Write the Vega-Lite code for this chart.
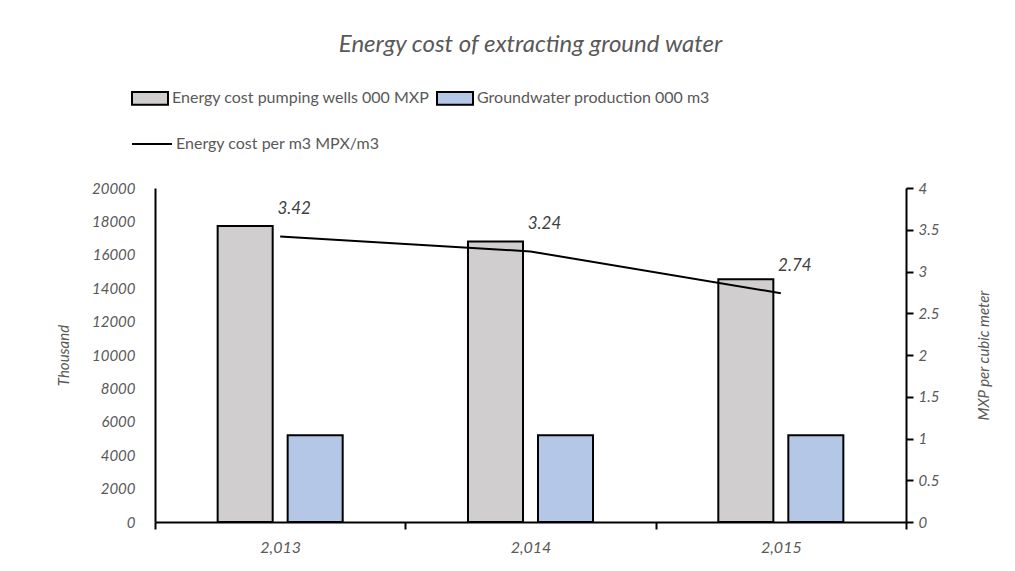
{
  "$schema": "https://vega.github.io/schema/vega-lite/v6.json",
  "width": 751,
  "height": 334,
  "autosize": {"type": "none"},
  "padding": {"left": 155, "top": 188, "right": 109, "bottom": 49},
  "background": "white",
  "config": {"font": "Lato", "view": {"stroke": null}},
  "title": {
    "text": "Energy cost of extracting ground water",
    "font": "Lato",
    "fontSize": 24,
    "fontStyle": "italic",
    "fontWeight": "normal",
    "color": "#595959",
    "anchor": "middle",
    "frame": "group",
    "offset": 22
  },
  "datasets": {
    "bars": [
      {"year": "2,013", "series": "Energy cost pumping wells 000 MXP", "value": 17720},
      {"year": "2,013", "series": "Groundwater production 000 m3", "value": 5200},
      {"year": "2,014", "series": "Energy cost pumping wells 000 MXP", "value": 16790},
      {"year": "2,014", "series": "Groundwater production 000 m3", "value": 5200},
      {"year": "2,015", "series": "Energy cost pumping wells 000 MXP", "value": 14530},
      {"year": "2,015", "series": "Groundwater production 000 m3", "value": 5200}
    ],
    "line": [
      {"year": "2,013", "series": "Energy cost per m3 MPX/m3", "value": 3.42, "label": "3.42"},
      {"year": "2,014", "series": "Energy cost per m3 MPX/m3", "value": 3.24, "label": "3.24"},
      {"year": "2,015", "series": "Energy cost per m3 MPX/m3", "value": 2.74, "label": "2.74"}
    ]
  },
  "layer": [
    {
      "data": {"name": "bars"},
      "mark": {"type": "bar", "stroke": "black", "strokeWidth": 2},
      "encoding": {
        "x": {
          "field": "year", "type": "nominal", "sort": null,
          "scale": {"paddingInner": 0, "paddingOuter": 0},
          "axis": {
            "title": null, "labelAngle": 0, "tickBand": "extent",
            "tickSize": 7, "tickWidth": 2, "tickColor": "black",
            "domainColor": "black", "domainWidth": 2,
            "labelFont": "Lato", "labelFontSize": 16, "labelFontStyle": "italic",
            "labelColor": "#595959", "labelPadding": 10
          }
        },
        "xOffset": {
          "field": "series", "type": "nominal", "sort": null,
          "scale": {"paddingInner": 0.214, "paddingOuter": 0.895}
        },
        "y": {
          "field": "value", "type": "quantitative",
          "scale": {"domain": [0, 20000]},
          "axis": {
            "title": "Thousand",
            "values": [0, 2000, 4000, 6000, 8000, 10000, 12000, 14000, 16000, 18000, 20000],
            "format": "d", "ticks": false, "tickSize": 0, "grid": false,
            "domainColor": "black", "domainWidth": 2,
            "labelFont": "Lato", "labelFontSize": 15, "labelFontStyle": "italic",
            "labelColor": "#595959", "labelPadding": 20,
            "titleFont": "Lato", "titleFontSize": 15, "titleFontStyle": "italic",
            "titleFontWeight": "normal", "titleColor": "#595959", "titlePadding": 20
          }
        },
        "color": {
          "field": "series", "type": "nominal", "sort": null,
          "scale": {
            "domain": ["Energy cost pumping wells 000 MXP", "Groundwater production 000 m3"],
            "range": ["#d0cece", "#b4c7e7"]
          },
          "legend": {
            "orient": "none", "legendX": -24, "legendY": -109,
            "direction": "horizontal", "title": null,
            "symbolType": "M-1,-0.35H1V0.35H-1Z", "symbolSize": 1296,
            "symbolStrokeColor": "black", "symbolStrokeWidth": 2, "symbolOpacity": 1,
            "labelFont": "Lato", "labelFontSize": 16, "labelColor": "#595959",
            "labelOffset": 3, "columnPadding": 3, "padding": 0, "labelLimit": 600
          }
        }
      }
    },
    {
      "data": {"name": "line"},
      "encoding": {
        "x": {"field": "year", "type": "nominal", "sort": null},
        "y": {
          "field": "value", "type": "quantitative",
          "scale": {"domain": [0, 4]},
          "axis": {
            "orient": "right", "title": "MXP per cubic meter",
            "values": [0, 0.5, 1, 1.5, 2, 2.5, 3, 3.5, 4], "format": "~g",
            "tickSize": 7, "tickWidth": 2, "tickColor": "black", "grid": false,
            "domainColor": "black", "domainWidth": 2,
            "labelFont": "Lato", "labelFontSize": 15, "labelFontStyle": "italic",
            "labelColor": "#595959", "labelPadding": 5,
            "titleFont": "Lato", "titleFontSize": 15, "titleFontStyle": "italic",
            "titleFontWeight": "normal", "titleColor": "#595959",
            "titleAngle": 270, "titlePadding": 53
          }
        }
      },
      "layer": [
        {
          "mark": {"type": "line", "strokeWidth": 2},
          "encoding": {
            "stroke": {
              "field": "series", "type": "nominal",
              "scale": {"range": ["black"]},
              "legend": {
                "orient": "none", "legendX": -24, "legendY": -65, "title": null,
                "symbolType": "stroke", "symbolSize": 1600, "symbolStrokeWidth": 2,
                "labelFont": "Lato", "labelFontSize": 16, "labelColor": "#595959",
                "labelOffset": 3, "padding": 0, "labelLimit": 600
              }
            }
          }
        },
        {
          "mark": {
            "type": "text", "dx": 14, "dy": -27, "font": "Lato",
            "fontSize": 17, "fontStyle": "italic", "color": "#404040"
          },
          "encoding": {
            "text": {"field": "label"}
          }
        }
      ]
    }
  ],
  "resolve": {"scale": {"y": "independent"}}
}
